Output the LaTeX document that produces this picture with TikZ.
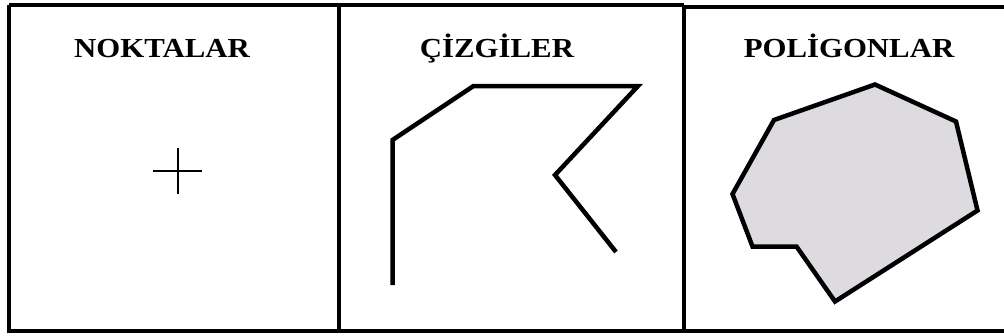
\documentclass[tikz,border=0pt]{standalone}
\usepackage{fontspec}
\setmainfont{Liberation Serif}
\begin{document}
\begin{tikzpicture}[x=1pt,y=-1pt,
  frame/.style={line width=4pt,black},
  title/.style={font=\fontsize{27.5}{30}\selectfont\bfseries,inner sep=0pt,anchor=base,xscale=1.12},
  figline/.style={line width=4.5pt,line join=miter,black}]
\useasboundingbox (0,0) rectangle (1004,335);
% frames
\draw[frame] (9,5) -- (9,330.5) -- (1004,330.5);
\draw[frame] (9,4.5) -- (684,4.5);
\draw[frame] (684,6.5) -- (1004,6.5);
\draw[frame] (339,4.5) -- (339,330.5);
\draw[frame] (684,4.5) -- (684,330.5);
% titles
\node[title] (t1) at (162,57) {NOKTALAR};
\node[title] (t2) at (497,57) {ÇİZGİLER};
\node[title] (t3) at (849,57) {POLİGONLAR};
% cross
\coordinate (cl) at (153,171);
\coordinate (cr) at (202,171);
\coordinate (ct) at (178,148);
\coordinate (cb) at (178,194);
\draw[line width=2.3pt] (cl) -- (cr) (ct) -- (cb);
% polyline
\coordinate (p1) at (392.5,285);
\coordinate (p2) at (392.5,140);
\coordinate (p3) at (473.5,86);
\coordinate (p4) at (638,86);
\coordinate (p5) at (555,175);
\coordinate (p6) at (616,252);
\draw[figline] (p1) -- (p2) -- (p3) -- (p4) -- (p5) -- (p6);
% polygon
\coordinate (q1) at (875,84.5);
\coordinate (q2) at (956,121.5);
\coordinate (q3) at (977.5,210.5);
\coordinate (q4) at (835,301.5);
\coordinate (q5) at (796.5,246.5);
\coordinate (q6) at (752.5,246.5);
\coordinate (q7) at (732.5,194);
\coordinate (q8) at (774,120);
\draw[figline,fill={rgb,255:red,221;green,219;blue,223}] (q1) -- (q2) -- (q3) -- (q4) -- (q5) -- (q6) -- (q7) -- (q8) -- cycle;
\end{tikzpicture}
\end{document}
